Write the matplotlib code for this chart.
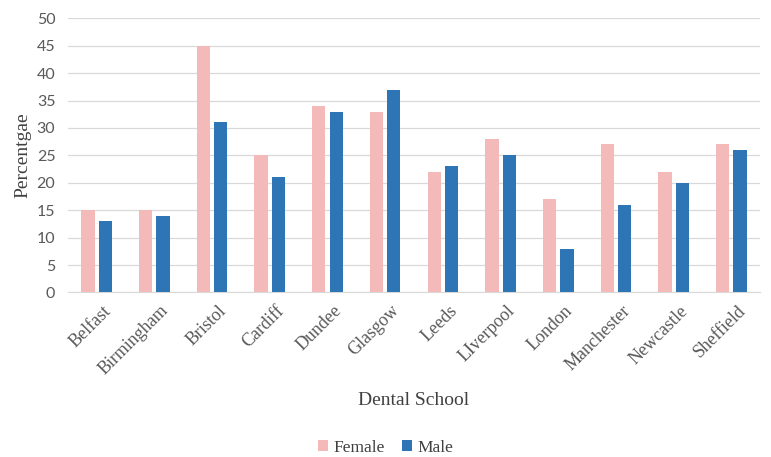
import matplotlib

matplotlib.use("Agg")
import matplotlib.pyplot as plt
import numpy as np

schools = ["Belfast", "Birmingham", "Bristol", "Cardiff", "Dundee", "Glasgow",
           "Leeds", "LIverpool", "London", "Manchester", "Newcastle", "Sheffield"]
female = [15, 15, 45, 25, 34, 33, 22, 28, 17, 27, 22, 27]
male = [13, 14, 31, 21, 33, 37, 23, 25, 8, 16, 20, 26]

fig = plt.figure(figsize=(7.71, 4.57), dpi=100)
ax = fig.add_axes([0.088, 0.36, 0.898, 0.60])

x = np.arange(len(schools))
w = 0.23
gap = 0.07
ax.bar(x - (w + gap) / 2, female, w, color="#F4B9B9", label="Female", zorder=3)
ax.bar(x + (w + gap) / 2, male, w, color="#2E75B6", label="Male", zorder=3)

ax.set_xlim(-0.5, len(schools) - 0.5)
ax.set_ylim(0, 50)
ax.set_yticks(range(0, 51, 5))
ax.grid(axis="y", color="#D9D9D9", lw=0.9, zorder=0)
for s in ["top", "right", "left"]:
    ax.spines[s].set_visible(False)
ax.spines["bottom"].set_color("#D9D9D9")
ax.tick_params(length=0)
ax.tick_params(axis="y", labelsize=11.5, labelcolor="#595959", pad=9)
ax.tick_params(axis="x", pad=7)
for t in ax.get_yticklabels():
    t.set_fontfamily("Lato")

ax.set_xticks(x + 0.1)
ax.set_xticklabels(schools, rotation=45, ha="right", rotation_mode="anchor",
                   family="Liberation Serif", fontsize=13, color="#595959")
ax.set_xlabel("Dental School", family="Liberation Serif", fontsize=14,
              color="#404040", labelpad=10)
ax.set_ylabel("Percentgae", family="Liberation Serif", fontsize=14,
              color="#404040", labelpad=4)

fig.legend(loc="lower center", ncol=2, frameon=False, bbox_to_anchor=(0.5, -0.032),
           prop={"family": "Liberation Serif", "size": 12.5}, handlelength=0.6,
           handleheight=0.6, columnspacing=1.0, handletextpad=0.3, labelcolor="#404040")

fig.savefig("out.png", dpi=100)
